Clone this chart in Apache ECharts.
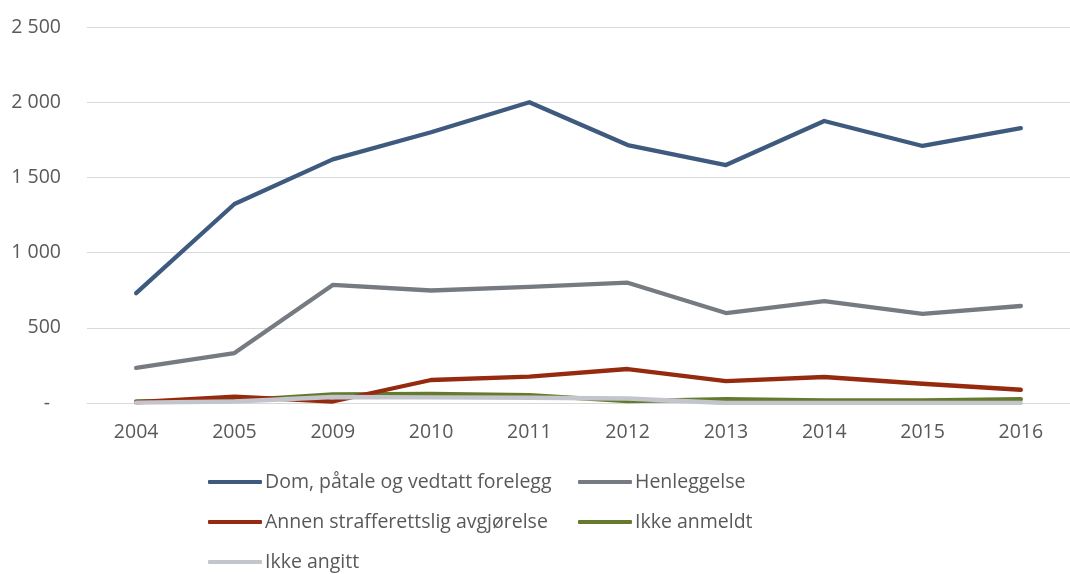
<!DOCTYPE html>
<html><head><meta charset="utf-8">
<script src="https://cdn.jsdelivr.net/npm/echarts@6/dist/echarts.min.js"></script>
<style>html,body{margin:0;padding:0;background:#fff}#c{width:1070px;height:574px}</style>
</head><body><div id="c"></div>
<script>
var categories = ['2004','2005','2009','2010','2011','2012','2013','2014','2015','2016'];
var seriesNames = ['Dom, påtale og vedtatt forelegg','Henleggelse','Annen strafferettslig avgjørelse','Ikke anmeldt','Ikke angitt'];
var domValues = [730, 1323, 1620, 1800, 2000, 1715, 1582, 1875, 1709, 1828];
var henleggelseValues = [233, 332, 785, 748, 772, 800, 598, 678, 592, 645];
var annenValues = [5, 42, 10, 153, 175, 226, 146, 173, 128, 88];
var ikkeAnmeldtValues = [10, 15, 58, 60, 52, 12, 25, 18, 18, 25];
var ikkeAngittValues = [3, 10, 40, 38, 35, 30, 0, 0, 0, 0];
var yTicks = [0, 500, 1000, 1500, 2000, 2500];

var colors = ['#3E5A7E','#767B82','#962A0E','#667A2E','#C2C6CC'];
var allValues = [domValues, henleggelseValues, annenValues, ikkeAnmeldtValues, ikkeAngittValues];
var font = 'Open Sans';
var fs = 19.5;
var txt = '#595959';

function fmt(v){
  if (v === 0) return '{d|-}';
  return String(v).replace(/\B(?=(\d{3})+(?!\d))/g, ' ');
}

var legendPos = [[208,472],[578,472],[208,512],[578,512],[208,552]];
var legends = seriesNames.map(function(n,i){
  return {
    data:[n], left: legendPos[i][0], top: legendPos[i][1],
    icon:'roundRect', itemWidth:54, itemHeight:4, padding:0,
    textStyle:{fontFamily:font, fontSize:fs, color:txt, padding:[0,0,0,-2]}
  };
});

var series = seriesNames.map(function(n,i){
  return {
    name:n, type:'line', data: allValues[i], symbol:'none',
    lineStyle:{width:4.3, color:colors[i], cap:'round', join:'round'},
    itemStyle:{color:colors[i]}, z: 10 - i
  };
});
series[4].z = 11;

var chart = echarts.init(document.getElementById('c'));
chart.setOption({
  animation:false,
  grid:{left:87, right:-10, top:27, bottom:171},
  legend: legends,
  xAxis:{
    type:'category', data:categories, boundaryGap:true,
    axisLine:{show:true, lineStyle:{color:'#D9D9D9', width:1}},
    axisTick:{show:false},
    axisLabel:{fontFamily:font, fontSize:fs, color:txt, margin:19}
  },
  yAxis:{
    type:'value', min:yTicks[0], max:yTicks[yTicks.length-1], interval:500,
    axisLine:{show:false}, axisTick:{show:false},
    splitLine:{lineStyle:{color:'#D9D9D9', width:1}},
    axisLabel:{fontFamily:font, fontSize:fs, color:txt, margin:26,
      formatter:fmt, rich:{d:{fontFamily:font, fontSize:fs, color:txt, padding:[0,11,0,0]}}}
  },
  series: series
});
</script></body></html>
